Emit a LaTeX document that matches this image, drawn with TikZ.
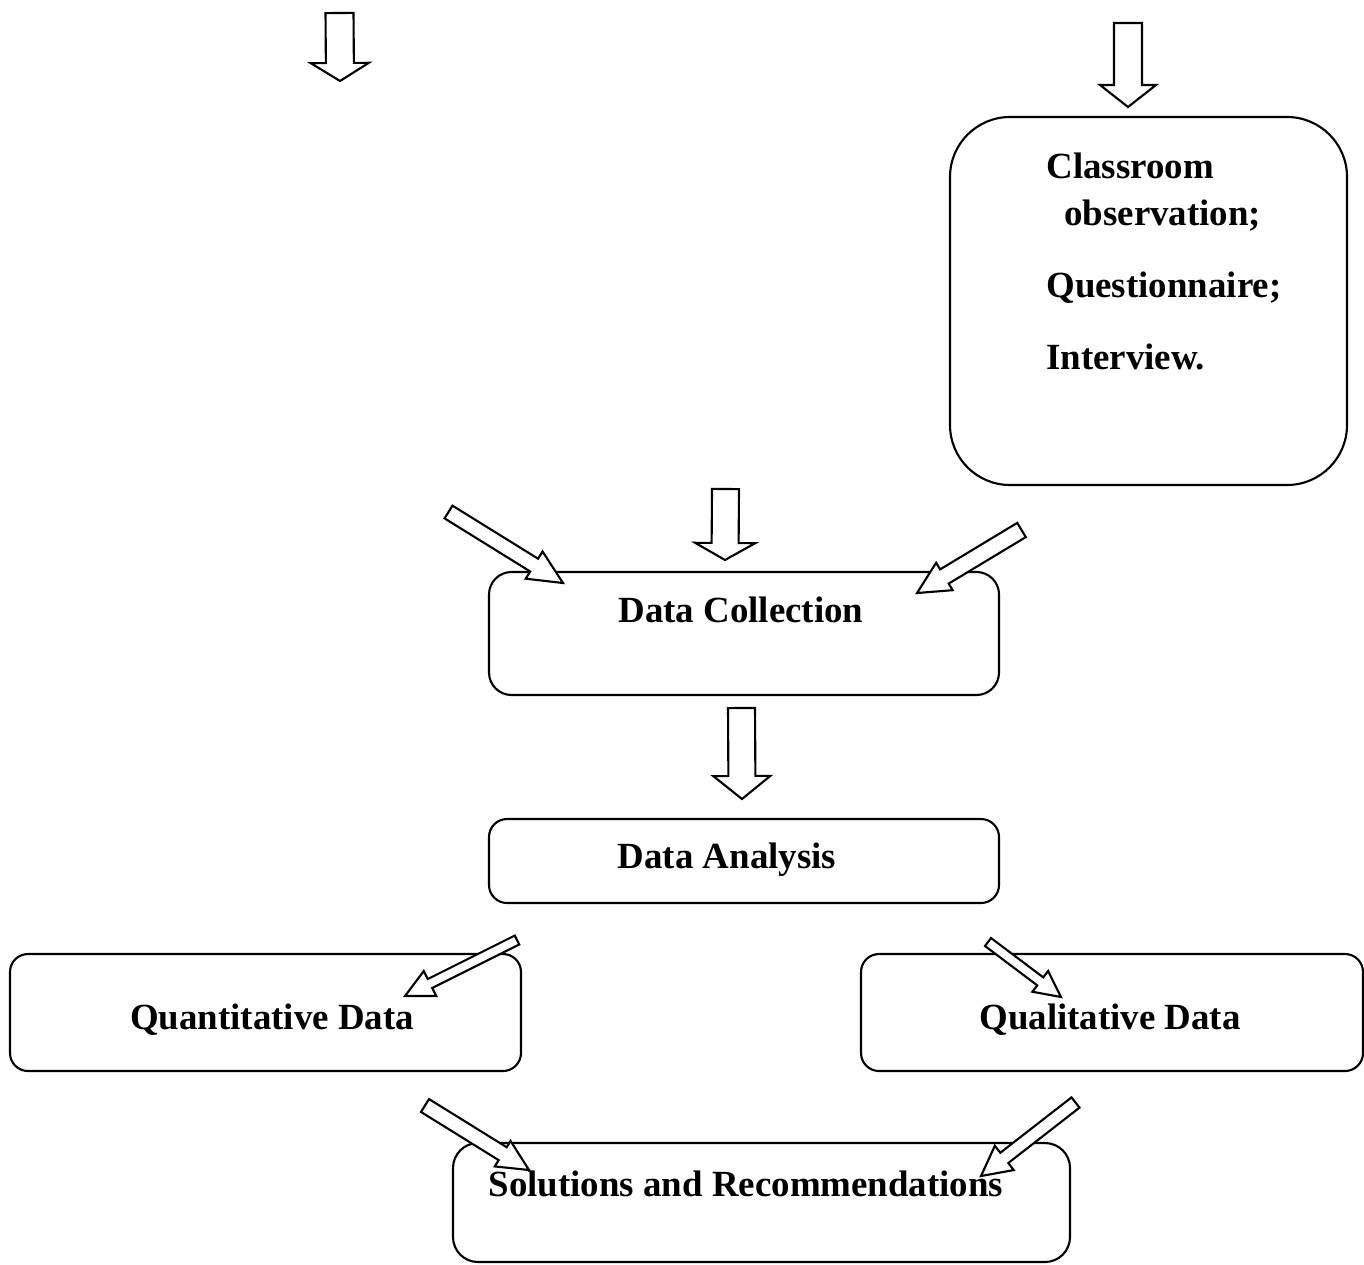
\documentclass[tikz,border=0pt]{standalone}
\usepackage{fontspec}
\setmainfont{Liberation Serif}
\usetikzlibrary{calc}
\tikzset{
  rbox/.style={draw, line width=1.2pt, rounded corners=#1},
  rbox/.default=18,
  blockarrow/.style={draw, fill=white, line width=1.2pt, line join=miter},
  lbl/.style={font=\fontsize{21}{25}\selectfont\bfseries, inner sep=0pt, anchor=base},
  lbll/.style={lbl, anchor=base west}
}
\newcommand\barrow[5]{%
  \pgfmathsetlengthmacro\bahs{#3*0.02cm}%
  \pgfmathsetlengthmacro\bahh{#4*0.02cm}%
  \pgfmathsetlengthmacro\bahl{#5*0.02cm}%
  \coordinate (#2-base) at ($(#2)!\bahl!(#1)$);
  \draw[blockarrow] ($(#1)!\bahs!90:(#2)$) -- ($(#2-base)!\bahs!-90:(#1)$) -- ($(#2-base)!\bahh!-90:(#1)$) -- (#2) -- ($(#2-base)!\bahh!90:(#1)$) -- ($(#2-base)!\bahs!90:(#1)$) -- ($(#1)!\bahs!-90:(#2)$) -- cycle;}
\begin{document}
\begin{tikzpicture}[x=0.02cm,y=-0.02cm]
\useasboundingbox (0,0) rectangle (1364,1264);
% boxes
\draw[rbox=1.2cm] (950,117) rectangle (1347,485);
\coordinate (methods) at (1148,301);
\draw[rbox=0.45cm] (489,572) rectangle (999,695);
\coordinate (dc) at (744,633);
\draw[rbox=0.36cm] (489,819) rectangle (999,903);
\coordinate (da) at (744,861);
\draw[rbox=0.36cm] (10,954) rectangle (521,1071);
\coordinate (qn) at (265,1012);
\draw[rbox=0.36cm] (861,954) rectangle (1363,1071);
\coordinate (ql) at (1112,1012);
\draw[rbox=0.5cm] (453,1143) rectangle (1070,1262);
\coordinate (sol) at (761,1203);
% arrow endpoints
\coordinate (a1t) at (339.5,13);   \coordinate (a1h) at (340,81);
\coordinate (a2t) at (1128,23);    \coordinate (a2h) at (1128,107);
\coordinate (a3t) at (448.5,512);  \coordinate (a3h) at (563,583);
\coordinate (a4t) at (725.5,489);  \coordinate (a4h) at (725,560);
\coordinate (a5t) at (1021.5,530); \coordinate (a5h) at (917,593);
\coordinate (a6t) at (741.5,708);  \coordinate (a6h) at (742,799);
\coordinate (a7t) at (517,940);    \coordinate (a7h) at (405,996);
\coordinate (a8t) at (988,942);    \coordinate (a8h) at (1061,997);
\coordinate (a9t) at (425,1105.5); \coordinate (a9h) at (529,1170);
\coordinate (a10t) at (1075.5,1102.5); \coordinate (a10h) at (981,1176);
\barrow{a1t}{a1h}{14}{29}{18}
\barrow{a2t}{a2h}{14}{28}{22}
\barrow{a3t}{a3h}{7.5}{16}{34}
\barrow{a4t}{a4h}{13.5}{30}{17}
\barrow{a5t}{a5h}{8.3}{16}{32}
\barrow{a6t}{a6h}{13.5}{28.5}{23}
\barrow{a7t}{a7h}{5}{14}{28}
\barrow{a8t}{a8h}{5}{13}{26}
\barrow{a9t}{a9h}{7.6}{15}{31}
\barrow{a10t}{a10h}{6.5}{15.4}{29.5}
% texts
\node[lbll] (t1) at (1046,178) {Classroom};
\node[lbll] (t2) at (1064,225) {observation;};
\node[lbll] (t3) at (1046,297) {Questionnaire;};
\node[lbll] (t4) at (1046,369) {Interview.};
\node[lbl] (tdc) at (741,622) {Data Collection};
\node[lbl] (tda) at (727,868) {Data Analysis};
\node[lbl] (tqn) at (272,1029) {Quantitative Data};
\node[lbl] (tql) at (1110,1029) {Qualitative Data};
\node[lbl] (tsol) at (746,1196) {Solutions and Recommendations};
\end{tikzpicture}
\end{document}
